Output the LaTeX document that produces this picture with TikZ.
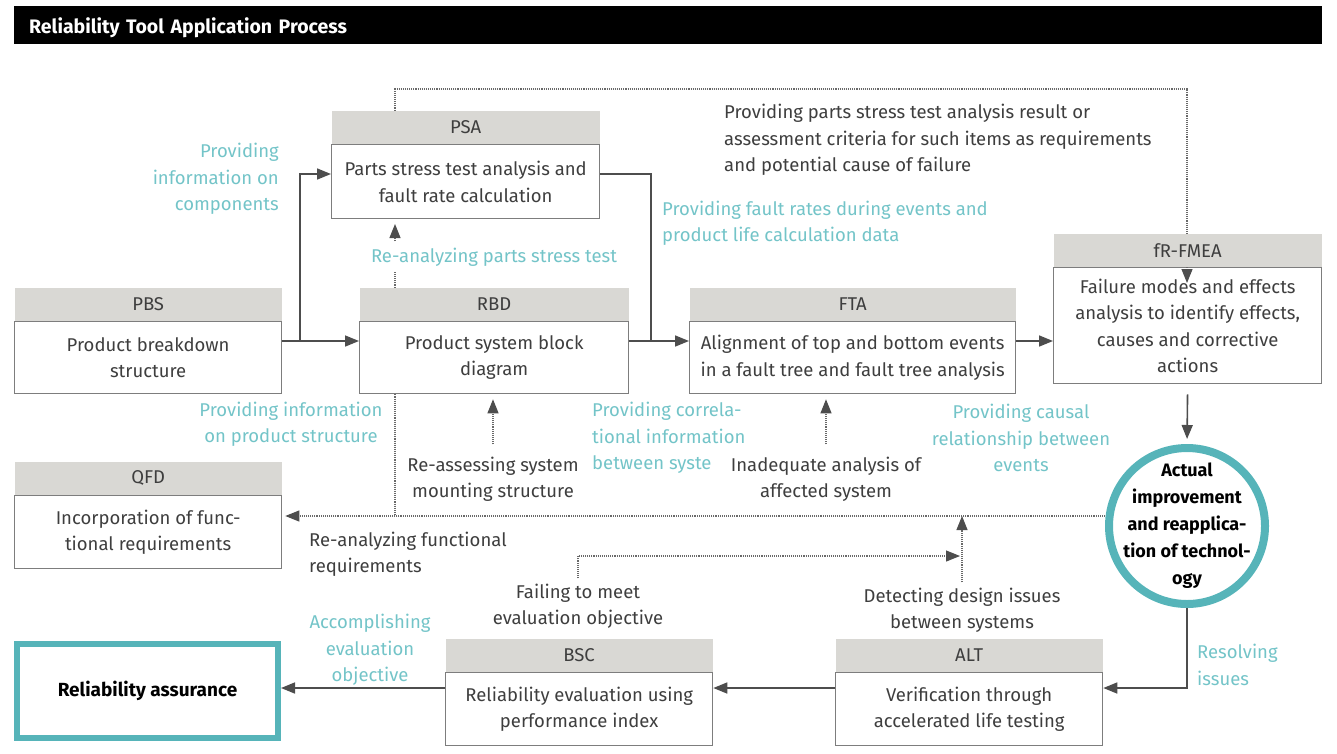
\documentclass[tikz,border=0pt]{standalone}
\usepackage{fontspec}
\setmainfont{Fira Sans}
\usetikzlibrary{arrows.meta,positioning}
\definecolor{hdgray}{RGB}{217,216,212}
\definecolor{bdgray}{RGB}{125,125,125}
\definecolor{txtgray}{RGB}{62,62,62}
\definecolor{arrgray}{RGB}{77,77,77}
\definecolor{dtgray}{RGB}{105,105,105}
\definecolor{lblcyan}{RGB}{115,196,200}
\definecolor{teal}{RGB}{86,180,185}

\begin{document}
\begin{tikzpicture}[x=1pt,y=-1pt,>={Triangle[length=14pt,width=11pt]},
font=\fontsize{18.5}{26.5}\selectfont,
hd/.style={fill=hdgray,text=txtgray,minimum height=33pt,inner sep=0pt},
bd/.style={draw=bdgray,line width=1.3pt,text=txtgray,align=center,anchor=north west},
arr/.style={->,draw=arrgray,line width=1.6pt},
ln/.style={draw=arrgray,line width=1.6pt},
dt/.style={draw=dtgray,line width=1.1pt,densely dotted},
dtarr/.style={dt,-{Triangle[length=14pt,width=11pt,color=arrgray]}},
lbl/.style={text=lblcyan,align=center,inner sep=2pt},
note/.style={text=txtgray,align=center,inner sep=2pt}]
\useasboundingbox (0,0) rectangle (1337,753);
\node[fill=black,text=white,font=\fontsize{19.5}{22}\bfseries,anchor=north west,minimum width=1308pt,
  minimum height=38pt,text width=1278pt,text depth=0pt,inner xsep=15pt,align=left] (ttl) at (14,6) {Reliability Tool Application Process};

\node[bd,minimum width=268pt,minimum height=74pt] (psa) at (331,144) {Parts stress test analysis and\\fault rate calculation};
\node[bd,minimum width=267pt,minimum height=72pt] (pbs) at (14,321) {Product breakdown\\structure};
\node[bd,minimum width=269pt,minimum height=72pt] (rbd) at (359,321) {Product system block\\diagram};
\node[bd,minimum width=326pt,minimum height=72pt] (fta) at (689,321) {Alignment of top and bottom events\\in a fault tree and fault tree analysis};
\node[bd,minimum width=268pt,minimum height=116pt] (fr) at (1053,267) {Failure modes and effects\\analysis to identify effects,\\causes and corrective\\actions};
\node[bd,minimum width=267pt,minimum height=73pt] (qfd) at (14,495) {Incorporation of func-\\tional requirements};
\node[bd,minimum width=267pt,minimum height=73pt] (bsc) at (445,672) {Reliability evaluation using\\performance index};
\node[bd,minimum width=267pt,minimum height=73pt] (alt) at (835,672) {Verification through\\accelerated life testing};
\node[hd,minimum width=268pt,above=0pt of psa] (psah) {PSA};
\node[hd,minimum width=267pt,above=0pt of pbs] (pbsh) {PBS};
\node[hd,minimum width=269pt,above=0pt of rbd] (rbdh) {RBD};
\node[hd,minimum width=326pt,above=0pt of fta] (ftah) {FTA};
\node[hd,minimum width=268pt,above=0pt of fr] (frh) {fR-FMEA};
\node[hd,minimum width=267pt,above=0pt of qfd] (qfdh) {QFD};
\node[hd,minimum width=267pt,above=0pt of bsc] (bsch) {BSC};
\node[hd,minimum width=267pt,above=0pt of alt] (alth) {ALT};
\node[draw=teal,line width=6pt,minimum width=261pt,minimum height=94pt,font=\fontsize{19}{22}\bfseries,text=black] (ra) at (147.5,691) {Reliability assurance};
\node[circle,draw=teal,line width=8pt,minimum size=156pt,align=center,text=black,font=\fontsize{18}{27}\bfseries,inner sep=-20pt] (act) at (1187,526) {Actual\\improvement\\and reapplica-\\tion of technol-\\ogy};

\coordinate (c1) at (395,89); \coordinate (c2) at (1187,89); \coordinate (c3) at (395,516);
\coordinate (c4) at (960,556); \coordinate (c5) at (395,224); \coordinate (frt) at (1187,283);
\coordinate (j0) at (300,174); \coordinate (j1) at (300,341); \coordinate (j2) at (651,341); \coordinate (j3) at (1187,688);

\draw[dt] (psah.north-|c1) -- (c1) -- (c2) -- (frh.north-|c2);\draw[dtarr] (frh.south-|c2) -- (frt);
\draw[arr] (pbs.east|-j1) -- (rbd.west|-j1);\draw[arr] (j1) -- (j0) -- (psa.west|-j0);
\draw[ln] (psa.east|-j0) -| (j2);\draw[arr] (rbd.east|-j2) -- (fta.west|-j2);
\draw[arr] (fta.east|-j2) -- (fr.west|-j2);
\draw[arr,shorten <=10pt,shorten >=5pt] (fr.south) -- (act.north);
\draw[arr] (act.south) |- (alt.east|-j3);\draw[arr] (alt.west|-j3) -- (bsc.east|-j3);
\draw[arr] (bsc.west|-j3) -- (ra.east|-j3);
\draw[dtarr] (rbdh.north-|c1) -- (c5);
\draw[dt] (rbd.south-|c1) -- (c3);
\draw[dtarr,shorten >=3pt] (act.west|-c3) -- (qfd.east|-c3);

\node[lbl,anchor=east,align=right] (pic) at (281,179) {Providing\\information on\\components};
\node[lbl,fill=white,inner ysep=6pt] (rpst) at (494,257) {Re-analyzing parts stress test};
\node[lbl,anchor=west,align=left] (pfr) at (660,223) {Providing fault rates during events and\\product life calculation data};
\node[note,anchor=west,align=left] (ppsr) at (722,140) {Providing parts stress test analysis result or\\assessment criteria for such items as requirements\\and potential cause of failure};
\node[lbl] (pips) at (291,424) {Providing information\\on product structure};
\node[lbl,anchor=west,align=left] (pci) at (590,438) {Providing correla-\\tional information\\between syste};
\node[note] (rsl) at (493,479) {Re-assessing system\\mounting structure};
\node[note] (ial) at (826,479) {Inadequate analysis of\\affected system};
\node[lbl] (pcr) at (1021,438) {Providing causal\\relationship between\\events};
\node[note,anchor=west,align=left] (rfr) at (307,554) {Re-analyzing functional\\requirements};
\node[note] (fml) at (578,606) {Failing to meet\\evaluation objective};
\node[note] (ddl) at (962,610) {Detecting design issues\\between systems};
\node[lbl] (aeo) at (370,650) {Accomplishing\\evaluation\\objective};
\node[lbl,anchor=west,align=left] (rsi) at (1195,665) {Resolving\\issues};

\draw[dtarr,shorten >=5pt] ([yshift=10pt]rsl.north) -- (rbd.south-|rsl.north);
\draw[dtarr,shorten >=5pt] ([yshift=10pt]ial.north) -- (fta.south-|ial.north);
\draw[dtarr] ([yshift=3pt]fml.north) |- (c4);
\draw[dtarr] ([yshift=3pt]ddl.north) -- (ddl.north|-c3);
\end{tikzpicture}
\end{document}
